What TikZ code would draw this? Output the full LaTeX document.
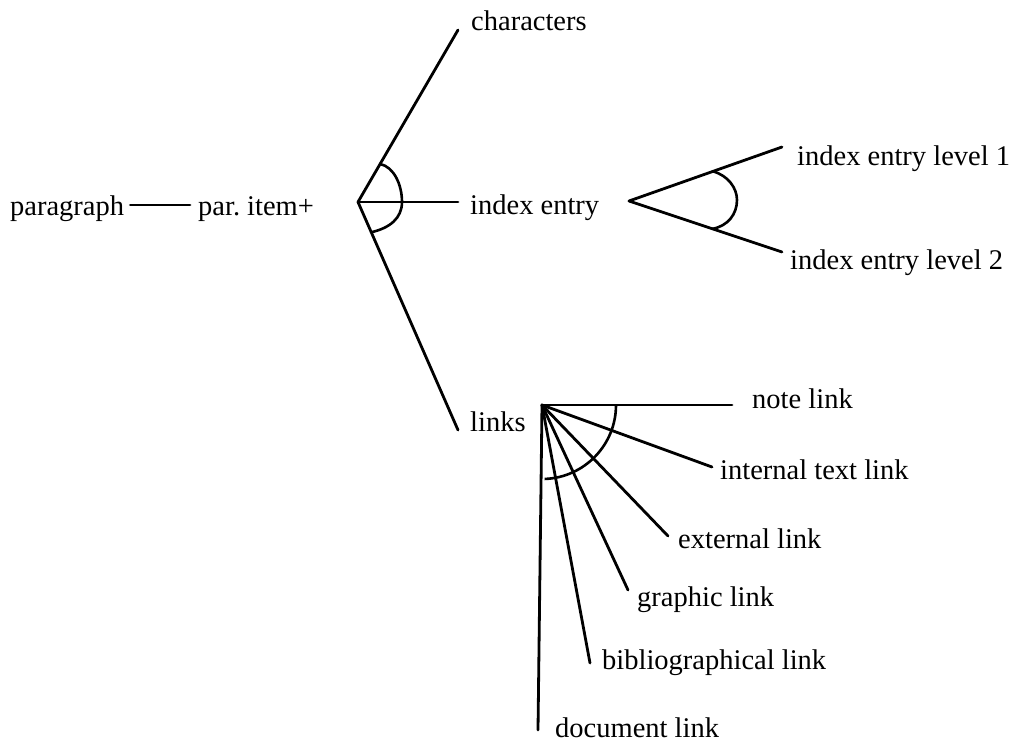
\documentclass[tikz,border=0pt]{standalone}
\usepackage{fontspec}
\setmainfont{Liberation Serif}
\usetikzlibrary{calc}
\begin{document}
\begin{tikzpicture}[x=1pt,y=-1pt,
  lbl/.style={anchor=west,inner sep=0pt,text height=27pt,text depth=7pt,
              font=\fontsize{28.5}{34}\selectfont},
  edge/.style={line width=2.8pt,line cap=round},
  anglemark/.style={line width=2.6pt}]
\useasboundingbox (0,0) rectangle (1013,742);

% labels
\node[lbl] (para)  at (10,205)  {paragraph};
\node[lbl] (item)  at (198,205) {par.\ item+};
\node[lbl] (chars) at (471,20)  {characters};
\node[lbl] (idx)   at (470,204) {index entry};
\node[lbl] (links) at (470,421) {links};
\node[lbl] (lvl1)  at (797,155) {index entry level 1};
\node[lbl] (lvl2)  at (790,259) {index entry level 2};
\node[lbl] (note)  at (752,398) {note link};
\node[lbl] (itl)   at (720,469) {internal text link};
\node[lbl] (ext)   at (678,538) {external link};
\node[lbl] (gfx)   at (637,596) {graphic link};
\node[lbl] (bib)   at (602,659) {bibliographical link};
\node[lbl] (doc)   at (555,727) {document link};

% fork vertices
\coordinate (f1) at (358,202);
\coordinate (f2) at (629,201);
\coordinate (f3) at (542,405);

% free line ends next to each label
\coordinate (e-chars) at ([shift={(-13,10)}]chars.west);
\coordinate (e-idx)   at ([shift={(-12,-2)}]idx.west);
\coordinate (e-links) at ([shift={(-12,9)}]links.west);
\coordinate (e-lvl1)  at ([shift={(-15,-8)}]lvl1.west);
\coordinate (e-lvl2)  at ([shift={(-8,-7)}]lvl2.west);
\coordinate (e-note)  at ([shift={(-20,7)}]note.west);
\coordinate (e-itl)   at ([shift={(-8,-2)}]itl.west);
\coordinate (e-ext)   at ([shift={(-10,-2)}]ext.west);
\coordinate (e-gfx)   at ([shift={(-9,-6)}]gfx.west);
\coordinate (e-bib)   at ([shift={(-12,4)}]bib.west);
\coordinate (e-doc)   at ([shift={(-17,3)}]doc.west);

% connectors
\draw[edge,shorten <=6pt,shorten >=8pt] (para.east) -- (item.west);
\draw[edge] (f1) -- (e-chars);
\draw[edge] (f1) -- (e-idx);
\draw[edge] (f1) -- (e-links);
\draw[edge] (f2) -- (e-lvl1);
\draw[edge] (f2) -- (e-lvl2);
\foreach \e in {note,itl,ext,gfx,bib,doc}
  \draw[edge] (f3) -- (e-\e);

% choice arcs
\draw[anglemark] ($(f1)!44pt!(e-chars)$)
  .. controls ++(14,3) and (402,185) .. (402,202)
  .. controls (402,218) and (390,228) .. ($(f1)!33pt!(e-links)$);
\draw[anglemark] ($(f2)!89pt!(e-lvl1)$)
  .. controls ++(15,4) and (737,188) .. (737,200)
  .. controls (737,214) and (728,226) .. ($(f2)!88pt!(e-lvl2)$);
\draw[anglemark] ([shift={(74pt,0pt)}]f3) arc[start angle=0,end angle=-88,radius=74pt];
\end{tikzpicture}
\end{document}
